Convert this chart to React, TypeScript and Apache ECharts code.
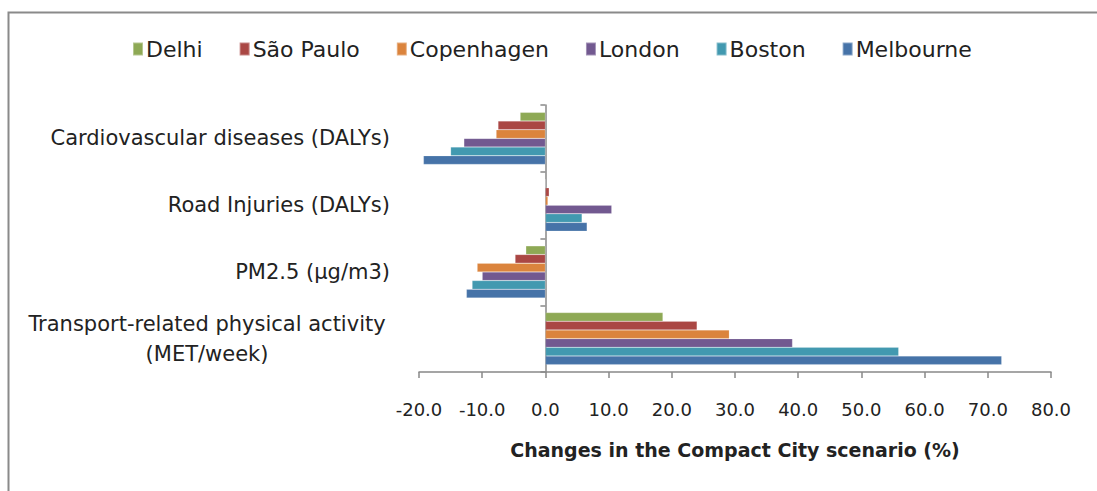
import React, { useEffect, useRef } from "react";
import * as echarts from "echarts";

const categories = [
  "Transport-related physical activity\n(MET/week)",
  "PM2.5 (µg/m3)",
  "Road Injuries (DALYs)",
  "Cardiovascular diseases (DALYs)",
];

// series order: top -> bottom within each category
const cities = ["Delhi", "São Paulo", "Copenhagen", "London", "Boston", "Melbourne"];

const delhi = [18.6, -3.1, 0.0, -4.0];
const saoPaulo = [24.0, -4.8, 0.6, -7.5];
const copenhagen = [29.1, -10.8, 0.4, -7.8];
const london = [39.1, -10.0, 10.5, -12.9];
const boston = [55.9, -11.6, 5.8, -15.0];
const melbourne = [72.2, -12.5, 6.6, -19.3];

const seriesValues = [delhi, saoPaulo, copenhagen, london, boston, melbourne];
const colors: Record<string, string> = {
  Delhi: "#8EA955",
  "São Paulo": "#AA4744",
  Copenhagen: "#DB843D",
  London: "#725990",
  Boston: "#4299B0",
  Melbourne: "#4673A8",
};

const FONT = "DejaVu Sans";

export default function App() {
  const ref = useRef<HTMLDivElement>(null);
  useEffect(() => {
    if (!ref.current) return;
    const chart = echarts.init(ref.current, null, { renderer: "svg" });
    chart.setOption({
      animation: false,
      backgroundColor: "#ffffff",
      textStyle: { fontFamily: FONT },
      graphic: [
        {
          type: "rect",
          shape: { x: 8.5, y: 12.5, width: 1200, height: 600 },
          style: { fill: "none", stroke: "#8a8a8a", lineWidth: 2 },
          silent: true,
        },
      ],
      legend: {
        top: 33,
        left: 127,
        data: cities,
        itemWidth: 10,
        itemHeight: 13,
        itemGap: 36,
        icon: "rect",
        textStyle: { fontFamily: FONT, fontSize: 22, color: "#222", padding: [0, 0, 0, -2] },
      },
      grid: { left: 419, right: 46, top: 105, bottom: 119, containLabel: false },
      xAxis: {
        type: "value",
        min: -20,
        max: 80,
        interval: 10,
        axisLine: { show: true, lineStyle: { color: "#888", width: 1.5 } },
        axisTick: { show: true, length: 6, lineStyle: { color: "#888", width: 1.5 } },
        splitLine: { show: false },
        axisLabel: {
          formatter: (v: number) => v.toFixed(1),
          fontFamily: FONT,
          fontSize: 18,
          color: "#222",
          margin: 28,
        },
        name: "Changes in the Compact City scenario (%)",
        nameLocation: "middle",
        nameGap: 68,
        nameTextStyle: { fontFamily: FONT, fontSize: 19, fontWeight: "bold", color: "#222" },
      },
      yAxis: [
        {
          type: "category",
          data: categories,
          axisLine: { show: false, onZero: false },
          axisTick: { show: false },
          axisLabel: {
            fontFamily: FONT,
            fontSize: 21,
            color: "#222",
            margin: 29,
            lineHeight: 30,
            formatter: (v: string) =>
              v.includes("\n") ? v.split("\n").map((l) => `{c|${l}}`).join("\n") : v,
            rich: {
              c: { width: 366, align: "center", fontFamily: FONT, fontSize: 21, color: "#222", lineHeight: 30 },
            },
          },
        },
        {
          type: "category",
          data: categories,
          position: "left",
          axisLine: { show: true, onZero: true, lineStyle: { color: "#888", width: 1.5 } },
          axisTick: { show: true, length: 5, lineStyle: { color: "#888", width: 1.5 } },
          axisLabel: { show: false },
        },
      ],
      series: cities.map((c, i) => ({
        name: c,
        type: "bar",
        yAxisIndex: 0,
        data: seriesValues[i],
        barGap: "0%",
        barCategoryGap: "22%",
        itemStyle: { color: colors[c], borderColor: "rgba(255,255,255,0.35)", borderWidth: 0.5 },
      })),
    });
    return () => chart.dispose();
  }, []);
  return (
    <div
      ref={ref}
      style={{ position: "fixed", left: 0, top: 0, width: 1097, height: 491, background: "#fff" }}
    />
  );
}
